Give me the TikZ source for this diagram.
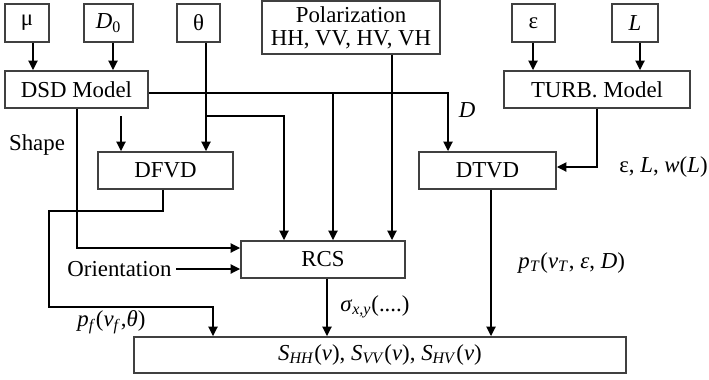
\documentclass[tikz,border=0pt]{standalone}
\usepackage{fontspec}
\setmainfont{Liberation Serif}
\usetikzlibrary{arrows.meta,calc}
\tikzset{
  box/.style={draw=black!75, line width=0.9pt, inner sep=1pt, minimum height=0.74cm, font=\fontsize{13}{15}\selectfont},
  link/.style={line width=1.65pt},
  arr/.style={link, -{Triangle[length=5.4pt,width=5pt]}},
  lbl/.style={font=\fontsize{13}{15}\selectfont, inner sep=0pt}
}
\newcommand{\spec}[1]{\textit{S}\textsubscript{\textit{#1}}(\textit{v})}

\begin{document}
\begin{tikzpicture}[x=0.02cm,y=-0.02cm]
        \useasboundingbox (0,0) rectangle (709,379);
        % Inputs
        \node[box, minimum width=0.88cm, minimum height=0.76cm] (mu) at (27,23) {μ};
        \node[box, minimum width=0.98cm, minimum height=0.76cm] (dz) at (108.5,23) {\textit{D}\textsubscript{0}};
        \node[box, minimum width=0.86cm, minimum height=0.76cm] (theta) at (198.5,23) {θ};
        \node[box, minimum width=3.56cm, minimum height=1.06cm, align=center] (pol) at (351,27.5) {Polarization\\[-2pt]HH, VV, HV, VH};
        \node[box, minimum width=0.86cm, minimum height=0.76cm] (eps) at (533.5,23) {ε};
        \node[box, minimum width=0.92cm, minimum height=0.76cm] (L) at (635,23) {\textit{L}};
        % Models
        \node[box, minimum width=2.86cm] (dsd) at (76.5,89.5) {DSD Model};
        \node[box, minimum width=3.72cm] (turb) at (597,89.5) {TURB. Model};
        \node[box, minimum width=2.7cm] (dfvd) at (165.5,170.5) {DFVD};
        \node[box, minimum width=2.74cm] (dtvd) at (487.5,170.5) {DTVD};
        \node[box, minimum width=3.28cm] (rcs) at (323,259.5) {RCS};
        \node[box, minimum width=9.84cm, minimum height=0.72cm] (spec) at (380,355) {\spec{HH}, \spec{VV}, \spec{HV}};
        % Labels
        \node[lbl] (shape) at (37,145) {Shape};
        \node[lbl, inner sep=2.5pt] (ori) at (119.5,269) {Orientation};
        \node[lbl] (dlab) at (467,110) {\textit{D}};
        \node[lbl, anchor=west] (turblab) at (619,167) {ε, \textit{L}, \textit{w}(\textit{L})};
        \node[lbl, anchor=west] (siglab) at (340,307) {\textit{σ}\textsubscript{\textit{x,y}}(....)};
        \node[lbl, anchor=west] (pflab) at (77,322) {\textit{p}\textsubscript{\textit{f}}(\textit{v}\textsubscript{\textit{f}},\textit{θ})};
        \node[lbl, anchor=west] (ptlab) at (518,263) {\textit{p}\textsubscript{\textit{T}}(\textit{v}\textsubscript{\textit{T}}, \textit{ε}, \textit{D})};
        % Columns and rows of the connectors
        \coordinate (cmu) at (33,0);
        \coordinate (cdz) at (113,0);
        \coordinate (cth) at (206,0);
        \coordinate (ceps) at (533,0);
        \coordinate (cL) at (640,0);
        \coordinate (cshape) at (77,0);
        \coordinate (cdf) at (121,0);
        \coordinate (cbr) at (284,0);
        \coordinate (cmid) at (333,0);
        \coordinate (cpol) at (392,0);
        \coordinate (cdt) at (448,0);
        \coordinate (cdfo) at (163,0);
        \coordinate (cleft) at (49,0);
        \coordinate (cpf) at (213,0);
        \coordinate (crcs) at (327,0);
        \coordinate (cdto) at (491,0);
        \coordinate (cturb) at (597,0);
        \coordinate (rdsd) at (0,93);
        \coordinate (rth) at (0,116);
        \coordinate (rshape) at (0,248);
        \coordinate (rdf) at (0,211);
        \coordinate (rpf) at (0,307);
        \coordinate (rturb) at (0,167);
        % Into the models
        \draw[arr] (mu.south -| cmu) -- (dsd.north -| cmu);
        \draw[arr] (dz.south -| cdz) -- (dsd.north -| cdz);
        \draw[arr] (eps.south -| ceps) -- (turb.north -| ceps);
        \draw[arr] (L.south -| cL) -- (turb.north -| cL);
        % DSD Model out
        \draw[arr] (dsd.east |- rdsd) -| (dtvd.north -| cdt);
        \draw[arr] (cmid |- rdsd) -- (rcs.north -| cmid);
        \draw[arr] (cdf |- rth) -- (dfvd.north -| cdf);
        \draw[arr] (dsd.south -| cshape) |- (rcs.west |- rshape);
        % Angle
        \draw[arr] (theta.south -| cth) -- (dfvd.north -| cth);
        \draw[arr] (cth |- rth) -| (rcs.north -| cbr);
        % Polarization and orientation
        \draw[arr] (pol.south -| cpol) -- (rcs.north -| cpol);
        \draw[arr] (ori.east) -- (rcs.west |- ori.east);
        % Turbulence
        \draw[arr] (turb.south -| cturb) |- (dtvd.east |- rturb);
        % Into the spectra
        \draw[arr] (dfvd.south -| cdfo) |- (cleft |- rdf) |- (cpf |- rpf) -- (spec.north -| cpf);
        \draw[arr] (rcs.south -| crcs) -- (spec.north -| crcs);
        \draw[arr] (dtvd.south -| cdto) -- (spec.north -| cdto);
\end{tikzpicture}
\end{document}
